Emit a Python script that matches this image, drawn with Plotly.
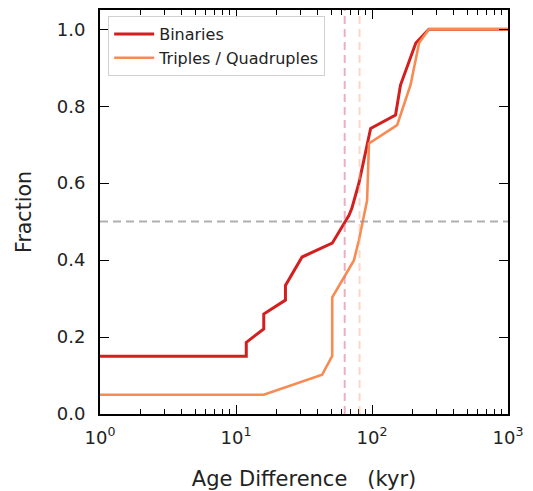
import plotly.graph_objects as go

# Data
bin_age = [1, 11.9, 11.9, 16.0, 16.0, 23.1, 23.1, 30.6, 51, 67.6, 71, 80, 97.7, 149, 162, 210, 262, 1000]
bin_frac = [0.15, 0.15, 0.186, 0.221, 0.26, 0.296, 0.334, 0.408, 0.444, 0.516, 0.534, 0.599, 0.742, 0.777, 0.855, 0.964, 1.0, 1.0]

tri_age = [1, 16.0, 43, 51, 51, 73.6, 80, 92, 95, 153, 192, 222, 262, 1000]
tri_frac = [0.05, 0.05, 0.102, 0.151, 0.303, 0.399, 0.451, 0.555, 0.703, 0.751, 0.855, 0.964, 1.0, 1.0]

median_bin = 63
median_tri = 81
half_level = 0.5

x_tickvals = [1, 10, 100, 1000]
x_ticktext = ["10<sup>0</sup>", "10<sup>1</sup>", "10<sup>2</sup>", "10<sup>3</sup>"]
x_minor = [m * d for d in (1, 10, 100) for m in range(2, 10)]
y_tickvals = [0.0, 0.2, 0.4, 0.6, 0.8, 1.0]
y_ticktext = ["0.0", "0.2", "0.4", "0.6", "0.8", "1.0"]

RED = "#d41f1f"
ORANGE = "#f88b52"
FONT = "DejaVu Sans"

fig = go.Figure()
fig.add_trace(go.Scatter(x=bin_age, y=bin_frac, mode="lines", name="Binaries",
                         line=dict(color=RED, width=3)))
fig.add_trace(go.Scatter(x=tri_age, y=tri_frac, mode="lines", name="Triples / Quadruples",
                         line=dict(color=ORANGE, width=2.6)))
# invisible helper so the top (mirror) axis with minor ticks is drawn
fig.add_trace(go.Scatter(x=tri_age, y=tri_frac, mode="lines", xaxis="x2",
                         line=dict(width=0), opacity=0, showlegend=False, hoverinfo="skip"))

fig.add_vline(x=median_bin, line=dict(color="rgba(222,110,140,0.55)", width=2, dash="8px,5px"))
fig.add_vline(x=median_tri, line=dict(color="rgba(250,175,140,0.5)", width=2, dash="8px,5px"))
fig.add_hline(y=half_level, line=dict(color="rgba(150,150,150,0.75)", width=2, dash="8px,5px"))

axis_common = dict(
    showline=True, linecolor="black", linewidth=1.8,
    ticks="inside", tickcolor="black", tickwidth=1.4,
    showgrid=False, zeroline=False, automargin=False,
    tickfont=dict(family=FONT, size=18, color="#222"),
)
minor_x = dict(tickmode="array", tickvals=x_minor, ticks="inside",
               ticklen=5, tickcolor="black", tickwidth=1.2, showgrid=False)

fig.update_layout(
    xaxis=dict(type="log", range=[0, 3], tickmode="array", tickvals=x_tickvals,
               ticktext=x_ticktext, ticklen=9, ticklabelstandoff=6, minor=minor_x,
               title=dict(text="Age Difference\u00a0\u00a0\u00a0(kyr)", standoff=28,
                          font=dict(family=FONT, size=21, color="#222")),
               **axis_common),
    xaxis2=dict(type="log", range=[0, 3], overlaying="x", side="top",
                tickmode="array", tickvals=x_tickvals, showticklabels=False,
                ticklen=9, minor=minor_x, **axis_common),
    yaxis=dict(range=[0, 1.05], tickmode="array", tickvals=y_tickvals,
               ticktext=y_ticktext, ticklen=9, ticklabelstandoff=9, mirror="ticks",
               title=dict(text="Fraction", standoff=20,
                          font=dict(family=FONT, size=20.5, color="#222")),
               **axis_common),
    width=533, height=491,
    margin=dict(l=100, r=25, t=10, b=77),
    plot_bgcolor="white", paper_bgcolor="white",
    showlegend=True,
    legend=dict(x=0.02, y=0.985, xanchor="left", yanchor="top",
                bgcolor="rgba(255,255,255,0.9)", bordercolor="#d0d0d0", borderwidth=1,
                font=dict(family=FONT, size=16, color="#222"),
                itemwidth=40, tracegroupgap=0),
)

fig.write_html("out.html")
